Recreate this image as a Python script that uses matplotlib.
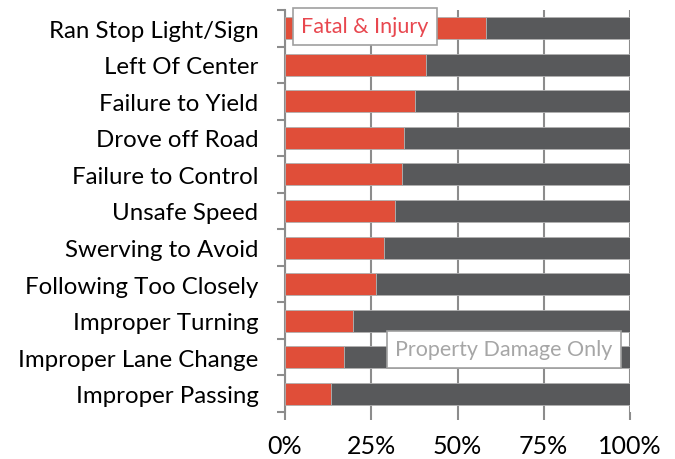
import matplotlib
matplotlib.use("Agg")
import matplotlib.pyplot as plt
import numpy as np

categories = ["Ran Stop Light/Sign", "Left Of Center", "Failure to Yield", "Drove off Road",
              "Failure to Control", "Unsafe Speed", "Swerving to Avoid", "Following Too Closely",
              "Improper Turning", "Improper Lane Change", "Improper Passing"]
fatal_injury = [58.3, 41.0, 37.7, 34.6, 34.0, 32.0, 28.8, 26.4, 19.8, 17.1, 13.4]
property_damage = [100 - v for v in fatal_injury]
xtick_labels = ["0%", "25%", "50%", "75%", "100%"]

plt.rcParams['font.family'] = ['Lato', 'DejaVu Sans']

fig = plt.figure(figsize=(6.75, 4.6), dpi=100)
ax = fig.add_axes([285/675, 1-413/460, 345/675, 402/460])

n = len(categories)
y = np.arange(n)[::-1]
red = "#E04E39"
grey = "#58595B"
ax.barh(y, fatal_injury, height=0.6, color=red, edgecolor="#b0b0b0", linewidth=0.6, zorder=3)
ax.barh(y, property_damage, left=fatal_injury, height=0.6, color=grey, edgecolor="#b0b0b0", linewidth=0.6, zorder=3)

ax.set_xlim(0, 100)
ax.set_ylim(-0.5, n - 0.5)
ax.set_xticks([0, 25, 50, 75, 100])
ax.set_xticklabels(xtick_labels, fontsize=18)
ax.set_yticks(y)
ax.set_yticklabels(categories, fontsize=17.3)
ax.set_yticks(np.arange(-0.5, n, 1), minor=True)
ax.tick_params(axis='y', which='major', length=0, pad=19)
ax.tick_params(axis='y', which='minor', length=6, width=1.5, color="#8c8c8c", direction='out')
ax.tick_params(axis='x', which='major', length=6, width=1.5, color="#8c8c8c", direction='out', pad=10)

ax.grid(axis='x', color="#8c8c8c", linewidth=1.5, zorder=0)
ax.set_axisbelow(True)
for s in ["top", "right", "bottom"]:
    ax.spines[s].set_visible(False)
ax.spines["left"].set_color("#8c8c8c")
ax.spines["left"].set_linewidth(1.5)

ax.text(23.2, n - 1 + 0.05, "Fatal & Injury", fontsize=15.5, color="#E8474F",
        ha="center", va="center", zorder=5,
        bbox=dict(boxstyle="square,pad=0.4", facecolor="white", edgecolor="#a0a0a0", linewidth=1.2))
ax.text(63.5, 1.22, "Property Damage Only", fontsize=15.5, color="#a6a6a6",
        ha="center", va="center", zorder=5,
        bbox=dict(boxstyle="square,pad=0.4", facecolor="white", edgecolor="#a0a0a0", linewidth=1.2))

fig.savefig("out.png", dpi=100)
